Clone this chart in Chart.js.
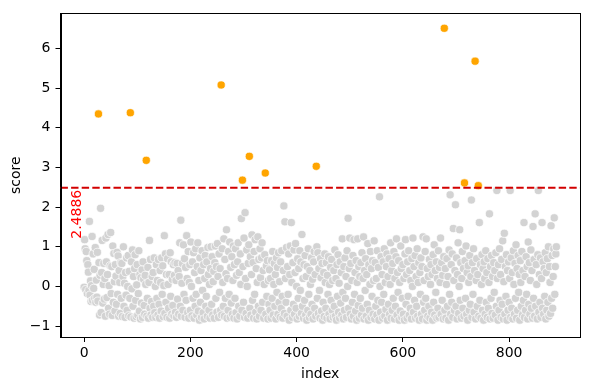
<!DOCTYPE html>
<html>
<head>
<meta charset="utf-8">
<script src="https://cdn.jsdelivr.net/npm/chart.js@4"></script>
<style>
html, body { margin: 0; padding: 0; background: #fff; }
#wrap { width: 590px; height: 390px; }
</style>
</head>
<body>
<div id="wrap"><canvas id="chart" width="590" height="390"></canvas></div>
<script>
// score per index (index = position in array)
const scores = [
  -0.02, 1.18, 0.95, -0.08, 0.88, 0.65, -0.18, 0.55, 0.36, -0.1,
  1.64, -0.22, 0.14, -0.38, 0.02, 1.26, -0.35, 0.82, -0.05, 0.43,
  -0.3, 0.98, -0.4, 0.16, -0.27, 0.86, -0.37, 4.35, 0.6, -0.72,
  0.28, 1.97, -0.66, 0.35, 1.16, -0.42, 0.05, 0.58, -0.32, 0.2,
  -0.75, 1.22, 0.62, -0.28, 0.3, 1.31, -0.55, 0.02, -0.7, 0.52,
  1.36, -0.18, 0.5, -0.73, 1.02, -0.4, 0.83, 0.12, -0.62, 0.55,
  0.26, -0.45, 0.86, -0.2, 0.77, -0.75, 0.4, 0.1, -0.68, 0.6,
  -0.3, 0.58, -0.76, 0.25, 1.0, -0.5, 0.08, -0.78, 0.35, -0.22,
  0.72, -0.6, 0.0, 0.78, -0.74, 0.38, -0.3, 4.38, -0.77, 0.62,
  -0.06, 0.92, -0.5, 0.25, -0.8, 0.45, 0.8, -0.35, -0.76, 0.04,
  0.55, -0.72, -0.18, 0.9, -0.62, 0.3, -0.82, 0.22, -0.42, 0.42,
  -0.78, 0.62, 0.18, -0.48, -0.7, 0.28, 0.05, 3.18, -0.75, -0.3,
  0.48, -0.8, 0.1, 1.16, -0.55, 0.68, -0.72, -0.38, 0.25, -0.78,
  0.35, -0.5, 0.72, -0.66, 0.0, -0.78, 0.55, -0.3, 0.15, -0.72,
  0.68, -0.45, -0.8, 0.4, 0.1, -0.62, 0.72, -0.2, 0.52, -0.76,
  0.02, 1.28, -0.68, 0.82, -0.4, 0.3, -0.78, 0.7, 0.05, -0.55,
  0.3, -0.8, 0.85, -0.25, 0.62, -0.7, 0.18, -0.48, 0.55, -0.74,
  0.28, 0.6, -0.65, 0.15, -0.78, 0.58, -0.32, 0.4, -0.7, 0.25,
  1.1, -0.5, 1.67, -0.75, 0.08, 0.58, -0.6, 1.05, -0.2, 0.7,
  -0.78, 0.48, -0.35, 1.28, 0.2, -0.66, 0.88, -0.8, 0.1, 0.55,
  -0.6, 1.12, 0.0, -0.74, 0.62, -0.3, 0.85, -0.8, 0.35, -0.5,
  0.95, -0.2, -0.72, 0.5, 1.1, -0.62, 0.15, -0.85, 0.72, -0.4,
  0.4, -0.78, 0.9, -0.1, -0.66, 0.55, -0.82, 0.2, 0.78, -0.5,
  -0.25, 0.62, -0.75, 0.98, 0.3, -0.6, 0.05, -0.8, 0.45, 1.0,
  -0.45, 0.75, -0.72, 0.12, 0.38, -0.8, 0.6, 1.02, -0.3, 0.5,
  -0.65, 1.08, 0.25, -0.78, 0.82, -0.15, 0.45, -0.6, 5.08, -0.72,
  0.95, 0.1, -0.5, 1.2, -0.75, 0.68, -0.3, 0.32, 1.43, -0.8,
  0.2, -0.6, 0.88, -0.2, 1.12, -0.78, 0.48, -0.42, 0.75, -0.7,
  0.15, 1.02, -0.8, 0.55, -0.3, 0.95, -0.66, 0.28, -0.82, 0.62,
  1.1, -0.5, 0.35, -0.75, 0.82, 0.05, 1.71, -0.6, 2.68, 0.5,
  -0.4, 1.22, -0.78, 1.86, 0.2, -0.68, 0.92, 0.0, -0.8, 0.58,
  1.05, 3.28, -0.55, 0.75, -0.72, 0.3, 1.3, -0.35, 0.6, -0.8,
  0.88, -0.2, 1.18, -0.65, 0.45, -0.82, 0.1, 1.25, -0.5, 0.68,
  -0.75, 0.95, 0.22, -0.6, 0.72, 1.1, -0.4, 0.4, -0.8, 0.05,
  0.8, 2.86, -0.7, 0.52, -0.25, 0.65, -0.82, 0.15, -0.45, 0.42,
  -0.6, 0.2, -0.8, 0.65, -0.3, 0.88, -0.72, 0.05, 0.58, -0.5,
  0.3, -0.82, 0.72, -0.15, 0.48, -0.7, 0.85, -0.4, 0.12, -0.78,
  0.62, -0.55, 0.9, -0.25, -0.8, 0.4, 2.03, -0.68, 1.63, 0.2,
  -0.4, 0.98, -0.75, 0.5, -0.2, 0.82, -0.85, 0.3, 1.02, -0.6,
  1.61, 0.1, -0.78, 0.6, -0.45, 0.92, -0.7, 0.35, 1.08, -0.55,
  0.0, -0.82, 0.7, -0.3, 0.45, -0.75, 0.9, -0.1, 0.62, -0.68,
  1.31, -0.5, 0.2, -0.8, 0.55, -0.35, 0.78, -0.72, 0.25, -0.85,
  0.5, -0.6, 0.95, -0.2, -0.78, 0.4, 0.05, -0.7, 0.72, -0.45,
  0.18, -0.82, 0.62, 0.88, -0.55, 0.3, -0.75, 3.03, 1.0, -0.3,
  0.85, -0.68, 0.45, -0.1, -0.8, 0.7, 0.22, -0.62, 0.58, -0.85,
  -0.4, 0.35, -0.76, 0.82, 0.1, -0.55, 0.6, -0.8, 0.28, -0.2,
  0.75, -0.7, 0.05, -0.82, 0.48, -0.35, 0.68, -0.6, 0.15, -0.78,
  0.4, -0.5, 0.92, -0.75, 0.2, -0.85, 0.55, -0.25, 0.8, -0.65,
  0.08, -0.8, 0.62, -0.42, 0.35, -0.72, 1.2, -0.15, -0.82, 0.5,
  -0.6, 0.72, -0.3, 0.25, -0.78, 0.9, 0.0, 1.72, -0.55, 0.45,
  1.22, -0.7, 0.58, -0.82, 0.15, -0.4, 0.78, -0.75, 1.18, -0.2,
  0.35, -0.62, 0.65, -0.85, 0.1, 1.2, -0.48, 0.5, -0.8, 0.25,
  -0.3, 0.6, -0.72, 0.85, -0.55, 0.2, 1.25, -0.82, 0.4, -0.1,
  0.7, -0.75, 0.3, -0.45, 1.08, -0.85, 0.55, -0.6, 0.05, 0.88,
  -0.78, 0.45, -0.25, 0.65, -0.7, 0.15, 1.15, -0.82, 0.6, -0.5,
  0.2, -0.72, 0.9, -0.35, 0.48, -0.85, 2.26, 0.0, -0.65, 0.75,
  -0.4, 0.3, -0.8, 0.62, -0.2, 0.95, -0.75, 0.1, -0.58, 0.5,
  0.82, -0.85, 0.25, -0.45, 0.7, -0.7, 0.05, 1.1, -0.8, 0.4,
  -0.6, 0.58, -0.3, 0.88, -0.82, 0.2, -0.5, 0.75, 1.2, -0.72,
  0.35, -0.15, 0.65, -0.85, 0.1, -0.62, 1.02, 0.45, -0.78, -0.3,
  0.55, -0.7, 0.2, -0.85, 0.82, 1.18, -0.45, 0.3, -0.8, 0.62,
  -0.25, 0.9, -0.72, 0.4, -0.55, 0.15, -0.82, 0.7, 0.0, 1.22,
  -0.65, 0.5, -0.35, 0.78, -0.8, 0.25, -0.5, 0.95, -0.75, 0.1,
  0.6, -0.85, 0.35, -0.2, 0.72, -0.7, 0.5, -0.82, 1.25, -0.4,
  0.15, -0.6, 0.88, -0.3, 1.2, -0.85, 0.45, -0.75, 0.25, -0.5,
  0.68, -0.8, 0.05, 0.55, -0.65, 0.3, -0.85, 0.8, -0.4, 1.05,
  -0.72, 0.4, -0.15, 0.62, -0.8, 0.2, -0.55, 0.9, -0.78, 0.48,
  0.1, 1.22, -0.7, 0.6, -0.35, 0.28, -0.82, 0.75, 6.51, -0.6,
  0.45, -0.8, 0.05, 0.7, -0.5, 0.25, -0.85, 0.92, -0.2, 2.31,
  -0.7, 0.55, -0.4, 0.82, -0.78, 1.46, 0.15, -0.6, 0.4, 2.06,
  -0.5, 0.72, -0.82, 0.3, 1.1, -0.68, 0.0, 1.43, -0.35, 0.6,
  -0.8, 0.2, 0.88, -0.55, 0.45, -0.75, 2.61, 0.65, -0.3, 1.02,
  -0.7, 0.35, -0.85, 0.52, 0.1, -0.6, 0.78, -0.45, 0.25, 2.18,
  -0.78, 0.6, -0.2, 0.95, -0.65, 0.4, 5.68, -0.82, 0.15, 0.7,
  -0.5, 0.3, 2.54, -0.75, 1.61, -0.35, 0.55, -0.8, 0.05, 0.8,
  -0.6, 0.45, -0.85, 0.62, 0.2, -0.7, 0.9, -0.4, 0.35, -0.78,
  0.7, -0.55, 0.1, 1.83, -0.82, 0.5, -0.3, 0.78, -0.68, 0.25,
  -0.8, 0.6, -0.15, 0.4, -0.72, 0.85, -0.5, 2.42, 0.2, -0.85,
  0.55, -0.6, 0.95, -0.35, 0.3, -0.78, 0.68, -0.45, 1.15, -0.82,
  0.12, 1.34, -0.7, 0.5, -0.25, 0.8, -0.85, 0.4, -0.6, 0.62,
  -0.4, 0.2, 2.42, -0.78, 0.72, -0.55, 0.35, -0.82, 0.9, 0.05,
  -0.7, 0.58, -0.3, 1.05, -0.8, 0.45, -0.6, 0.78, -0.15, 0.3,
  -0.85, 0.65, 0.1, -0.5, 0.88, -0.72, 0.4, -0.35, 1.61, -0.78,
  0.25, -0.6, 0.75, -0.2, 0.5, -0.82, 1.12, -0.45, 0.6, -0.7,
  0.15, 0.92, -0.55, 0.4, -0.8, 1.51, -0.3, 0.68, -0.75, 1.83,
  -0.5, 0.55, 0.05, -0.82, 0.8, 2.42, -0.65, 0.3, -0.4, 0.72,
  -0.78, 0.2, 1.61, -0.55, 0.62, -0.7, 0.45, -0.25, 0.85, -0.82,
  0.35, -0.6, 0.7, -0.4, 1.0, -0.75, 0.5, 0.1, -0.68, 1.53,
  -0.3, 0.78, -0.55, 0.25, 0.95, 1.73, -0.2, 0.5, 0.82, 1.0
];
const threshold = 2.4886;
const xTicks = [0, 200, 400, 600, 800];
const yTicks = [-1, 0, 1, 2, 3, 4, 5, 6];

const normalPts = [];
const highPts = [];
scores.forEach((v, i) => {
  if (v > threshold) highPts.push({ x: i, y: v });
  else normalPts.push({ x: i, y: v });
});

const font = { family: 'DejaVu Sans', size: 14 };

const extras = {
  id: 'extras',
  afterDatasetsDraw(chart) {
    const { ctx, chartArea, scales } = chart;
    const yT = scales.y.getPixelForValue(threshold);
    ctx.save();
    ctx.strokeStyle = '#d20000';
    ctx.lineWidth = 1.9;
    ctx.setLineDash([7.4, 3.2]);
    ctx.beginPath();
    ctx.moveTo(chartArea.left, yT);
    ctx.lineTo(chartArea.right, yT);
    ctx.stroke();
    ctx.setLineDash([]);

    // threshold label, rotated
    const x0 = scales.x.getPixelForValue(0);
    ctx.translate(x0 - 3, yT + 2);
    ctx.rotate(-Math.PI / 2);
    ctx.fillStyle = '#ff0000';
    ctx.font = '14px "DejaVu Sans"';
    ctx.textAlign = 'right';
    ctx.textBaseline = 'alphabetic';
    ctx.fillText(threshold.toFixed(4), 0, 0);
    ctx.restore();

    // frame
    ctx.save();
    ctx.strokeStyle = '#000';
    ctx.lineWidth = 1;
    ctx.strokeRect(Math.round(chartArea.left) + 0.5, Math.round(chartArea.top) + 0.5,
      Math.round(chartArea.right - chartArea.left) - 1, Math.round(chartArea.bottom - chartArea.top));
    ctx.restore();
  }
};

new Chart(document.getElementById('chart'), {
  type: 'scatter',
  data: {
    datasets: [
      {
        data: normalPts,
        backgroundColor: '#d3d3d3',
        borderColor: '#ffffff',
        borderWidth: 0.7,
        pointRadius: 4.1
      },
      {
        data: highPts,
        backgroundColor: '#ffa500',
        borderColor: '#ffffff',
        borderWidth: 0.7,
        pointRadius: 4.1
      }
    ]
  },
  options: {
    responsive: false,
    animation: false,
    events: [],
    layout: { padding: { top: 10, right: 10, left: 0, bottom: 0 } },
    plugins: { legend: { display: false }, tooltip: { enabled: false } },
    scales: {
      x: {
        type: 'linear',
        min: -44.45,
        max: 933.45,
        afterBuildTicks: s => { s.ticks = xTicks.map(v => ({ value: v })); },
        afterFit: s => { s.height = 53; },
        grid: { drawOnChartArea: false, drawTicks: true, tickLength: 5, tickColor: '#000', tickWidth: 1 },
        border: { display: true, color: '#000', width: 1 },
        ticks: { color: '#000', font: font, padding: 3, maxRotation: 0 },
        title: { display: true, text: 'index', color: '#000', font: font, padding: { top: 0, bottom: 7 } }
      },
      y: {
        type: 'linear',
        min: -1.275,
        max: 6.885,
        afterBuildTicks: s => { s.ticks = yTicks.map(v => ({ value: v })); },
        afterFit: s => { s.width = 60.5; },
        grid: { drawOnChartArea: false, drawTicks: true, tickLength: 5, tickColor: '#000', tickWidth: 1 },
        border: { display: true, color: '#000', width: 1 },
        ticks: { color: '#000', font: font, padding: 5, callback: v => String(v).replace('-', '\u2212') },
        title: { display: true, text: 'score', color: '#000', font: font, padding: { top: 8, bottom: 0 } }
      }
    }
  },
  plugins: [extras]
});
</script>
</body>
</html>
